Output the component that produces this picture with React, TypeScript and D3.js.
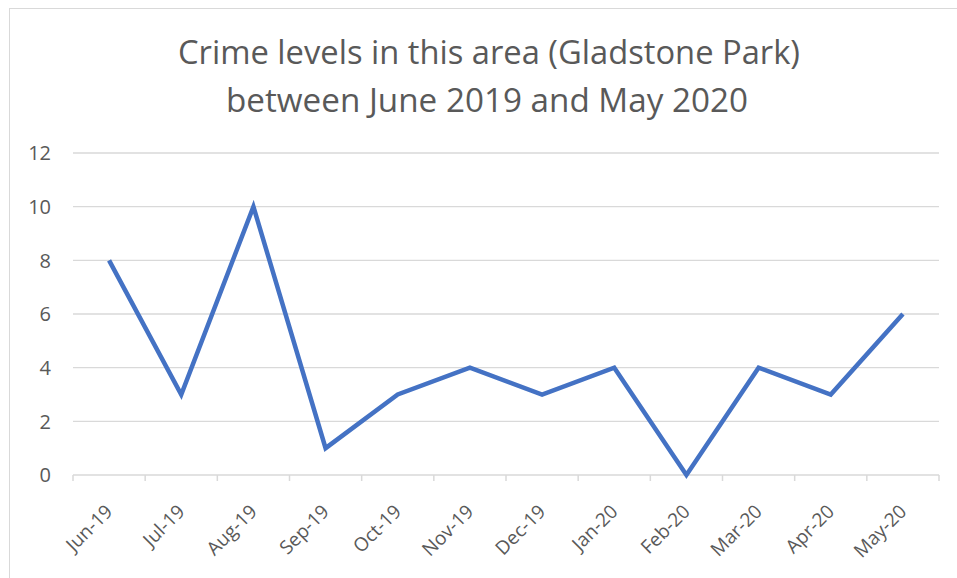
import React from "react";
import * as d3 from "d3";

const categories = ["Jun-19","Jul-19","Aug-19","Sep-19","Oct-19","Nov-19","Dec-19","Jan-20","Feb-20","Mar-20","Apr-20","May-20"];
const crimes = [8, 3, 10, 1, 3, 4, 3, 4, 0, 4, 3, 6];
const yTicks = [0, 2, 4, 6, 8, 10, 12];
const titleLines = ["Crime levels in this area (Gladstone Park)", "between June 2019 and May 2020"];

export default function App() {
  const W = 957, H = 578;
  const left = 73, right = 939, top = 153, bottom = 475;
  const x = d3.scaleBand().domain(categories).range([left, right]).padding(0);
  const y = d3.scaleLinear().domain([0, 12]).range([bottom, top]);
  const cx = (c: string) => (x(c) as number) + x.bandwidth() / 2;
  const line = d3.line<number>().x((_, i) => cx(categories[i])).y((d) => y(d));
  const font = "'Open Sans', 'Liberation Sans', sans-serif";
  const grey = "#595959";
  const boundaries = [...categories.map((c) => x(c) as number), right];
  return (
    <svg width={W} height={H} style={{ position: "absolute", left: 0, top: 0, background: "#fff" }}>
      <rect x={9.5} y={8.5} width={1000} height={1000} fill="#fff" stroke="#d9d9d9" strokeWidth={1} />
      <text fill={grey} fontFamily={font} textAnchor="middle">
        <tspan x={489} y={64} fontSize={33} textLength={622} lengthAdjust="spacingAndGlyphs">{titleLines[0]}</tspan>
        <tspan x={487} y={112} fontSize={33} textLength={522} lengthAdjust="spacingAndGlyphs">{titleLines[1]}</tspan>
      </text>
      {yTicks.filter((t) => t > 0).map((t) => (
        <line key={t} x1={left} x2={right} y1={y(t)} y2={y(t)} stroke="#d9d9d9" strokeWidth={1.3} />
      ))}
      {yTicks.map((t) => (
        <text key={"l" + t} x={51} y={y(t)} dy="0.36em" textAnchor="end" fontSize={20} fill={grey} fontFamily={font}>{t}</text>
      ))}
      <line x1={left} x2={right} y1={bottom} y2={bottom} stroke="#d9d9d9" strokeWidth={1.5} />
      {boundaries.map((b, i) => (
        <line key={"t" + i} x1={b} x2={b} y1={bottom} y2={bottom + 6} stroke="#d9d9d9" strokeWidth={1.5} />
      ))}
      {categories.map((c) => (
        <text key={c} transform={`translate(${cx(c)},${bottom + 33}) rotate(-45)`} textAnchor="end" dy="0.35em" fontSize={19} fill={grey} fontFamily={font}>{c}</text>
      ))}
      <path d={line(crimes) || ""} fill="none" stroke="#4472C4" strokeWidth={4.5} strokeLinejoin="miter" strokeLinecap="butt" />
    </svg>
  );
}
